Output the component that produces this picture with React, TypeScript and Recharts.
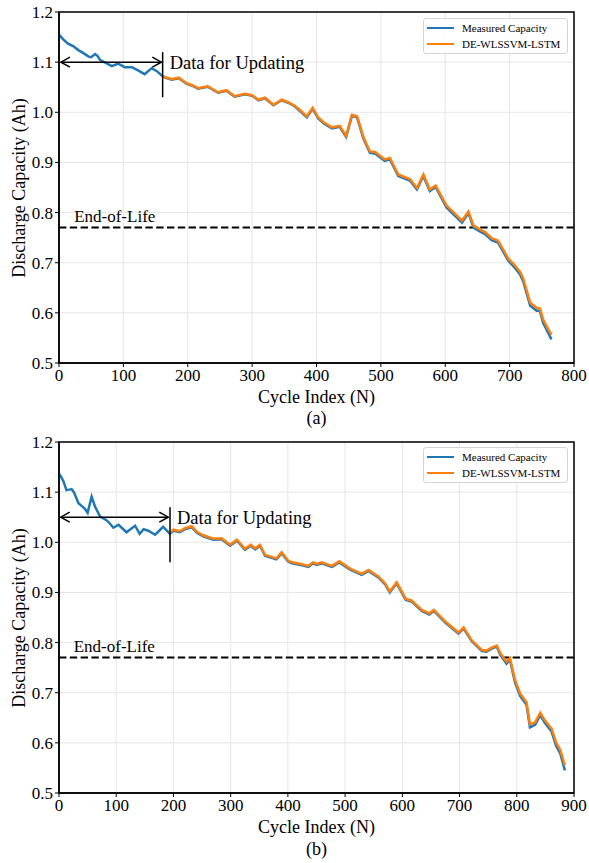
import React from 'react';
import {
  LineChart,
  Line,
  XAxis,
  YAxis,
  CartesianGrid,
  ReferenceLine,
  ReferenceDot,
  ReferenceArea,
} from 'recharts';

const FONT = '"Liberation Serif", "Times New Roman", Times, serif';
const BLUE = '#1f77b4';
const ORANGE = '#ff7f0e';

// ---------- Panel (a) ----------
const cyclesA = [
  0, 7, 14, 22, 30, 38, 46, 50, 56, 60,
  64, 72, 82, 92, 102, 113, 122, 133, 144, 152,
  160, 165, 175, 186, 198, 207, 216, 231, 247, 260,
  273, 289, 300, 310, 320, 333, 346, 356, 366, 374,
  385, 394, 403, 412, 424, 436, 446, 455, 463, 473,
  483, 491, 506, 514, 527, 545, 556, 566, 576, 585,
  602, 614, 626, 636, 644, 657, 662, 672, 682, 698,
  708, 716, 721, 732, 742, 747, 752, 758, 765,
];
const measuredA = [
  1.155, 1.145, 1.137, 1.132, 1.124, 1.118, 1.111, 1.110, 1.116, 1.112,
  1.104, 1.099, 1.092, 1.097, 1.090, 1.090, 1.084, 1.076, 1.088, 1.082,
  1.073, 1.069, 1.065, 1.068, 1.057, 1.053, 1.047, 1.051, 1.039, 1.043,
  1.031, 1.036, 1.033, 1.024, 1.028, 1.014, 1.024, 1.019, 1.012, 1.003,
  0.990, 1.007, 0.987, 0.977, 0.968, 0.971, 0.951, 0.993, 0.990, 0.947,
  0.919, 0.918, 0.903, 0.906, 0.873, 0.864, 0.846, 0.873, 0.843, 0.851,
  0.810, 0.795, 0.780, 0.799, 0.770, 0.760, 0.757, 0.745, 0.740, 0.704,
  0.690, 0.677, 0.663, 0.614, 0.604, 0.604, 0.580, 0.565, 0.547,
];
const predictedA = [
  null, null, null, null, null, null, null, null, null, null,
  null, null, null, null, null, null, null, null, null, null,
  1.073, 1.070, 1.066, 1.069, 1.058, 1.054, 1.048, 1.052, 1.040, 1.044,
  1.032, 1.037, 1.034, 1.025, 1.029, 1.015, 1.025, 1.020, 1.013, 1.005,
  0.992, 1.009, 0.989, 0.979, 0.970, 0.973, 0.953, 0.995, 0.992, 0.950,
  0.922, 0.921, 0.906, 0.909, 0.876, 0.867, 0.849, 0.876, 0.846, 0.854,
  0.814, 0.799, 0.784, 0.802, 0.774, 0.764, 0.761, 0.749, 0.744, 0.708,
  0.695, 0.682, 0.669, 0.620, 0.610, 0.609, 0.587, 0.572, 0.556,
];
const xTicksA = [0, 100, 200, 300, 400, 500, 600, 700, 800];

// ---------- Panel (b) ----------
const cyclesB = [
  0, 4, 8, 13, 18, 22, 26, 34, 41, 45,
  50, 57, 63, 72, 83, 90, 95, 104, 118, 126,
  133, 141, 148, 156, 168, 176, 182, 188, 194, 200,
  211, 220, 232, 241, 252, 262, 270, 284, 299, 311,
  325, 335, 343, 351, 360, 380, 389, 400, 407, 421,
  436, 444, 450, 459, 477, 490, 508, 529, 541, 558,
  570, 578, 590, 606, 616, 634, 647, 655, 675, 698,
  707, 721, 739, 747, 756, 765, 771, 782, 788, 797,
  806, 817, 823, 832, 841, 849, 861, 869, 876, 884,
];
const measuredB = [
  1.137, 1.130, 1.121, 1.104, 1.105, 1.106, 1.100, 1.078, 1.071, 1.067,
  1.059, 1.091, 1.071, 1.051, 1.044, 1.036, 1.029, 1.035, 1.020, 1.027,
  1.033, 1.017, 1.026, 1.023, 1.015, 1.024, 1.031, 1.024, 1.017, 1.023,
  1.020, 1.026, 1.030, 1.019, 1.012, 1.008, 1.005, 1.006, 0.993, 1.003,
  0.985, 0.993, 0.986, 0.993, 0.973, 0.966, 0.978, 0.962, 0.958, 0.955,
  0.951, 0.958, 0.955, 0.958, 0.951, 0.960, 0.946, 0.935, 0.943, 0.930,
  0.916, 0.900, 0.918, 0.885, 0.882, 0.863, 0.856, 0.863, 0.840, 0.818,
  0.828, 0.803, 0.783, 0.782, 0.788, 0.792, 0.776, 0.758, 0.766, 0.720,
  0.693, 0.676, 0.631, 0.636, 0.655, 0.640, 0.622, 0.593, 0.579, 0.545,
];
const predictedB = [
  null, null, null, null, null, null, null, null, null, null,
  null, null, null, null, null, null, null, null, null, null,
  null, null, null, null, null, null, null, null, 1.018, 1.025,
  1.022, 1.028, 1.032, 1.021, 1.014, 1.010, 1.007, 1.008, 0.995, 1.005,
  0.987, 0.995, 0.988, 0.995, 0.975, 0.968, 0.980, 0.964, 0.960, 0.957,
  0.953, 0.960, 0.957, 0.960, 0.953, 0.962, 0.948, 0.937, 0.945, 0.932,
  0.918, 0.902, 0.920, 0.887, 0.884, 0.865, 0.858, 0.865, 0.842, 0.820,
  0.830, 0.805, 0.785, 0.784, 0.790, 0.794, 0.779, 0.762, 0.769, 0.725,
  0.698, 0.681, 0.637, 0.641, 0.660, 0.645, 0.628, 0.600, 0.586, 0.555,
];
const xTicksB = [0, 100, 200, 300, 400, 500, 600, 700, 800, 900];

const yTicks = [0.5, 0.6, 0.7, 0.8, 0.9, 1.0, 1.1, 1.2];
const seriesNames = ['Measured Capacity', 'DE-WLSSVM-LSTM'];
const seriesColors = [BLUE, ORANGE];
const EOL = 0.77;

const buildRows = (c: number[], m: number[], p: (number | null)[]) =>
  c.map((cycle, i) => ({ cycle, measured: m[i], predicted: p[i] }));

const DoubleArrow = (props: any) => {
  const { x1, y1, x2, y2 } = props;
  const h = 9;
  const w = 5;
  return (
    <g>
      <line x1={x1} y1={y1} x2={x2} y2={y2} stroke="#000" strokeWidth={1.5} />
      <polyline
        points={`${x1 + h},${y1 - w} ${x1},${y1} ${x1 + h},${y1 + w}`}
        fill="none"
        stroke="#000"
        strokeWidth={1.5}
      />
      <polyline
        points={`${x2 - h},${y2 - w} ${x2},${y2} ${x2 - h},${y2 + w}`}
        fill="none"
        stroke="#000"
        strokeWidth={1.5}
      />
    </g>
  );
};

type PanelProps = {
  top: number;
  caption: string;
  rows: any[];
  xMax: number;
  xTicks: number[];
  arrowFrom: number;
  arrowTo: number;
  arrowY: number;
  splitX: number;
  splitY1: number;
  splitY2: number;
  eolTextX: number;
  legendTop: number;
  xLabelY: number;
  captionY: number;
};

const W = 589;
const H = 430;

function Panel(p: PanelProps) {
  const tickStyle = { fontSize: 17, fill: '#000', fontFamily: FONT };
  const textStyle: React.CSSProperties = {
    position: 'absolute',
    height: 22,
    lineHeight: '22px',
    textAlign: 'center',
    fontFamily: FONT,
    fontSize: 18,
    color: '#000',
    whiteSpace: 'nowrap',
  };
  return (
    <div style={{ position: 'absolute', left: 0, top: p.top, width: W, height: 433 }}>
      <LineChart
        width={W}
        height={H}
        data={p.rows}
        margin={{ top: 12, right: 15, left: 0, bottom: 37 }}
      >
        <CartesianGrid stroke="#e6e6e6" strokeWidth={1} />
        <XAxis
          dataKey="cycle"
          type="number"
          domain={[0, p.xMax]}
          ticks={p.xTicks}
          allowDataOverflow
          height={30}
          tickSize={4}
          tickMargin={2}
          tick={tickStyle}
          axisLine={{ stroke: '#000', strokeWidth: 1.5 }}
          tickLine={{ stroke: '#000', strokeWidth: 1 }}
        />
        <YAxis
          type="number"
          domain={[0.5, 1.2]}
          ticks={yTicks}
          allowDataOverflow
          width={59}
          tickSize={4}
          tickMargin={2}
          tickFormatter={(v: number) => v.toFixed(1)}
          tick={tickStyle}
          axisLine={{ stroke: '#000', strokeWidth: 1.5 }}
          tickLine={{ stroke: '#000', strokeWidth: 1 }}
        />
        <ReferenceArea
          x1={0}
          x2={p.xMax}
          y1={0.5}
          y2={1.2}
          fill="none"
          fillOpacity={0}
          stroke="#000"
          strokeWidth={1.5}
        />
        <ReferenceLine
          y={EOL}
          stroke="#000"
          strokeWidth={2}
          strokeDasharray="7.4 3.4"
        />
        <ReferenceDot
          x={p.eolTextX}
          y={EOL + 0.024}
          r={1}
          fill="none"
          stroke="none"
          label={{ value: 'End-of-Life', position: 'right', offset: 0, fontSize: 17, fill: '#000', fontFamily: FONT }}
        />
        <Line
          type="linear"
          dataKey="measured"
          stroke={BLUE}
          strokeWidth={2.5}
          dot={false}
          isAnimationActive={false}
        />
        <Line
          type="linear"
          dataKey="predicted"
          stroke={ORANGE}
          strokeWidth={2.5}
          dot={false}
          connectNulls={false}
          isAnimationActive={false}
        />
        <ReferenceLine
          segment={[
            { x: p.arrowFrom, y: p.arrowY },
            { x: p.arrowTo, y: p.arrowY },
          ]}
          stroke="#000"
          strokeWidth={1.5}
          shape={DoubleArrow}
        />
        <ReferenceLine
          segment={[
            { x: p.splitX, y: p.splitY1 },
            { x: p.splitX, y: p.splitY2 },
          ]}
          stroke="#000"
          strokeWidth={1.5}
        />
        <ReferenceDot
          x={p.splitX}
          y={p.arrowY}
          r={1}
          fill="none"
          stroke="none"
          label={{ value: 'Data for Updating', position: 'right', offset: 6, fontSize: 18.5, fill: '#000', fontFamily: FONT }}
        />
      </LineChart>

      {/* Y axis label */}
      <div
        style={{
          ...textStyle,
          left: 19 - 150,
          top: 187.5 - 11,
          width: 300,
          transform: 'rotate(-90deg)',
          transformOrigin: 'center center',
        }}
      >
        Discharge Capacity (Ah)
      </div>
      {/* X axis label */}
      <div style={{ ...textStyle, left: 316.5 - 150, top: p.xLabelY - 11, width: 300 }}>
        Cycle Index (N)
      </div>
      {/* caption */}
      <div style={{ ...textStyle, left: 316.5 - 50, top: p.captionY - 11, width: 100 }}>
        {p.caption}
      </div>
      {/* legend */}
      <div
        style={{
          position: 'absolute',
          left: 423,
          top: p.legendTop,
          width: 145,
          height: 36,
          boxSizing: 'border-box',
          border: '1px solid #d4d4d4',
          borderRadius: 3,
          background: 'rgba(255,255,255,0.85)',
        }}
      >
        {seriesNames.map((name, i) => (
          <div
            key={name}
            style={{
              position: 'absolute',
              left: 0,
              top: 1 + i * 16,
              height: 16,
              width: 143,
              display: 'flex',
              alignItems: 'center',
            }}
          >
            <div style={{ marginLeft: 3, width: 27, height: 2.4, background: seriesColors[i] }} />
            <div
              style={{
                marginLeft: 8,
                fontFamily: FONT,
                fontSize: 11,
                color: '#000',
                whiteSpace: 'nowrap',
                lineHeight: '16px',
              }}
            >
              {name}
            </div>
          </div>
        ))}
      </div>
    </div>
  );
}

export default function App() {
  const rowsA = buildRows(cyclesA, measuredA, predictedA);
  const rowsB = buildRows(cyclesB, measuredB, predictedB);
  return (
    <div style={{ position: 'absolute', left: 0, top: 0, width: W, height: 863, background: '#fff' }}>
      <Panel
        top={0}
        caption="(a)"
        rows={rowsA}
        xMax={800}
        xTicks={xTicksA}
        arrowFrom={3}
        arrowTo={159}
        arrowY={1.1}
        splitX={161}
        splitY1={1.12}
        splitY2={1.03}
        eolTextX={22}
        legendTop={18}
        xLabelY={397}
        captionY={418}
      />
      <Panel
        top={430}
        caption="(b)"
        rows={rowsB}
        xMax={900}
        xTicks={xTicksB}
        arrowFrom={3}
        arrowTo={191}
        arrowY={1.05}
        splitX={194}
        splitY1={1.07}
        splitY2={0.96}
        eolTextX={24}
        legendTop={17}
        xLabelY={397}
        captionY={419}
      />
    </div>
  );
}
